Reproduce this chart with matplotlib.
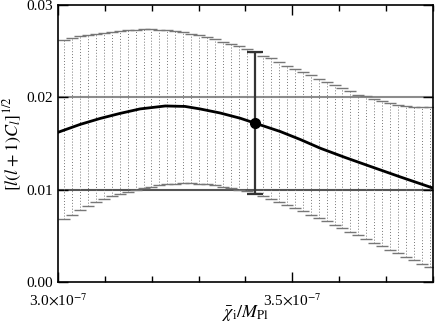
import numpy as np
import matplotlib
matplotlib.use("Agg")
import matplotlib.pyplot as plt
from matplotlib.ticker import MultipleLocator, FixedLocator

plt.rcParams['font.family'] = ['Liberation Serif', 'DejaVu Serif']
plt.rcParams['mathtext.fontset'] = 'stix'

# bar positions (in units of 1e-7)
x_bars = [3.013, 3.030, 3.047, 3.064, 3.081, 3.098, 3.115, 3.132, 3.149, 3.166,
          3.183, 3.199, 3.216, 3.233, 3.250, 3.267, 3.284, 3.301, 3.318, 3.335,
          3.352, 3.369, 3.386, 3.403, 3.420, 3.437, 3.454, 3.471, 3.488, 3.505,
          3.522, 3.539, 3.556, 3.573, 3.590, 3.607, 3.624, 3.641, 3.658, 3.674,
          3.691, 3.708, 3.725, 3.742, 3.759, 3.776, 3.793]
upper = [0.0262, 0.0264, 0.0266, 0.0267, 0.0269, 0.0270, 0.0271, 0.0272, 0.0273, 0.0273,
         0.0274, 0.0274, 0.0273, 0.0273, 0.0272, 0.0271, 0.0269, 0.0267, 0.0265, 0.0263,
         0.0260, 0.0258, 0.0255, 0.0252, 0.0249, 0.0245, 0.0242, 0.0238, 0.0234, 0.0231,
         0.0227, 0.0224, 0.0220, 0.0217, 0.0213, 0.0210, 0.0207, 0.0203, 0.0201, 0.0198,
         0.0196, 0.0194, 0.0192, 0.0191, 0.0190, 0.0190, 0.0189]
lower = [0.00679, 0.00729, 0.00785, 0.00826, 0.00866, 0.00899, 0.00928, 0.00953, 0.00977, 0.00999,
         0.01018, 0.01034, 0.01047, 0.01058, 0.01066, 0.01069, 0.01069, 0.01066, 0.01058, 0.01047,
         0.01034, 0.01018, 0.01002, 0.00986, 0.00964, 0.00937, 0.00904, 0.00870, 0.00837, 0.00805,
         0.00769, 0.00731, 0.00693, 0.00657, 0.00621, 0.00582, 0.00538, 0.00506, 0.00466, 0.00428,
         0.00390, 0.00349, 0.00312, 0.00274, 0.00235, 0.00200, 0.00162]

# central curve
x_curve = [3.000, 3.047, 3.090, 3.132, 3.175, 3.229, 3.271, 3.303, 3.346, 3.389,
           3.421, 3.474, 3.517, 3.560, 3.613, 3.667, 3.731, 3.800]
y_curve = [0.01621, 0.01706, 0.01771, 0.01825, 0.01874, 0.01906, 0.01901, 0.01874, 0.01830, 0.01773,
           0.01719, 0.01630, 0.01543, 0.01448, 0.01348, 0.01251, 0.01137, 0.01018]

# highlighted point
x_pt = 3.421
y_pt = 0.01719
pt_lo = 0.0095
pt_hi = 0.0249

y_ticks = [0.0, 0.01, 0.02, 0.03]
y_labels = ['0.00', '0.01', '0.02', '0.03']

x_b = np.array(x_bars) * 1e-7
up = np.array(upper)
lo = np.array(lower)
mid = (up + lo) / 2

fig = plt.figure(figsize=(4.36, 3.25), dpi=100)
ax = fig.add_axes([0.133, 0.132, 0.860, 0.853])

ax.axhline(0.02, color='#8c8c8c', lw=1.5, zorder=1)
ax.axhline(0.01, color='#555555', lw=1.5, zorder=1)

eb = ax.errorbar(x_b, mid, yerr=[mid - lo, up - mid], fmt='none', ecolor='#777777',
                 elinewidth=0.7, capsize=4.5, capthick=1.0, zorder=2)
eb[2][0].set_linestyle((0, (1, 2)))

ax.plot(np.array(x_curve) * 1e-7, y_curve, color='black', lw=2, zorder=3)

ax.errorbar([x_pt * 1e-7], [y_pt], yerr=[[y_pt - pt_lo], [pt_hi - y_pt]], fmt='o',
            color='black', ecolor='#333333', elinewidth=1.6, capsize=6, capthick=1.6,
            markersize=7, zorder=4)

ax.set_xlim(3.0e-7, 3.8e-7)
ax.set_ylim(0, 0.03)
ax.xaxis.set_major_locator(FixedLocator([3.0e-7, 3.5e-7]))
ax.xaxis.set_minor_locator(MultipleLocator(0.1e-7))
ax.set_xticklabels([r'3.0$\times$10$^{-7}$', r'3.5$\times$10$^{-7}$'])
ax.yaxis.set_major_locator(FixedLocator(y_ticks))
ax.set_yticklabels(y_labels)
ax.tick_params(which='both', direction='in', top=True, right=True, labelsize=11, width=1)
ax.tick_params(which='major', length=7)
ax.tick_params(which='minor', length=4)
ax.tick_params(axis='x', pad=7)
for s in ax.spines.values():
    s.set_linewidth(1.2)

fig.text(0.563, 0.024, r'$\bar{\chi}_{\rm i}/M_{\rm Pl}$', fontsize=13,
         ha='center', va='baseline')
ax.set_ylabel(r'$[l(l+1)C_l]^{1/2}$', fontsize=13, labelpad=2)

fig.savefig('out.png', dpi=100)
